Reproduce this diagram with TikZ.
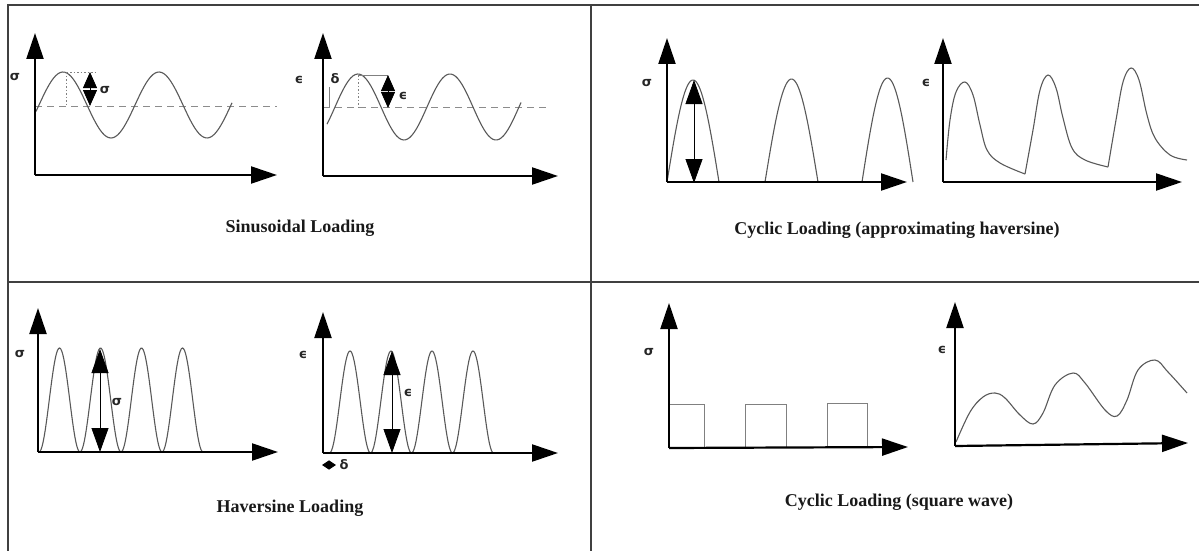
\documentclass[tikz,border=0pt]{standalone}
\usepackage{fontspec}
\setmainfont{Liberation Serif}
\newfontfamily\greekfont{DejaVu Sans}
\usetikzlibrary{arrows.meta}
\begin{document}
\begin{tikzpicture}[x=1pt,y=-1pt,
  grid/.style={line width=1.6pt, draw=black!75},
  axis/.style={line width=2.2pt, -{Triangle[length=26pt,width=17pt]}},
  curve/.style={line width=1.1pt, draw=black!65},
  thincurve/.style={line width=0.9pt, draw=black!50},
  mean/.style={dash pattern=on 7pt off 5pt, draw=black!45, line width=1pt},
  dots/.style={dash pattern=on 1.5pt off 2pt, draw=black!50, line width=0.8pt},
  dblsmall/.style={line width=0.8pt, {Triangle[length=16pt,width=14pt]}-{Triangle[length=16pt,width=14pt]}},
  dblbig/.style={line width=0.8pt, {Triangle[length=24pt,width=17pt]}-{Triangle[length=24pt,width=17pt]}},
  lab/.style={font=\fontsize{13}{13}\selectfont\greekfont\bfseries, inner sep=0pt, text=black!85},
  caption/.style={font=\fontsize{18}{21}\selectfont\bfseries, inner sep=0pt, text=black!90}]
\useasboundingbox (0,0) rectangle (1199,551);
% table grid
\draw[grid] (8,551) -- (8,5) -- (1199,5);
\draw[grid] (591,5) -- (591,551);
\draw[grid] (8,282) -- (1199,282);

% ---------- Panel 1: sinusoidal sigma ----------
\coordinate (o1) at (35,175);
\coordinate (y1) at (35,33);
\coordinate (x1) at (277,175);
\draw[mean] (35,106) -- (277,106);
\draw[curve] plot[domain=36:232, samples=90] (\x, {105 - 33*cos((\x-63)/96*360)});
\draw[dots] (63,72) -- (98,72);
\draw[dots] (66,72) -- (66,106);
\coordinate (a1t) at (90,72);
\coordinate (a1b) at (90,106);
\draw[dblsmall] (a1b) -- (a1t);
\node[lab] (s1) at (105,90) {σ};
\node[lab] (l1) at (15,77) {σ};
\draw[axis] (o1) -- (y1);
\draw[axis] (o1) -- (x1);
\node[caption] (c1) at (300,228) {Sinusoidal Loading};

% ---------- Panel 2: sinusoidal epsilon ----------
\coordinate (o2) at (323,176);
\coordinate (y2) at (323,33);
\coordinate (x2) at (558,176);
\draw[mean] (323,107) -- (550,107);
\draw[curve] plot[domain=327:521, samples=90] (\x, {107 - 33*cos((\x-358)/92*360)});
\draw[thincurve] (358,75) -- (388,75);
\draw[dots] (358,75) -- (358,107);
\draw[thincurve, line width=0.6pt] (329,87) -- (329,107);
\coordinate (a2t) at (388,75);
\coordinate (a2b) at (388,108);
\draw[dblsmall] (a2b) -- (a2t);
\node[lab] (e2) at (403,96) {ϵ};
\node[lab] (d2) at (335,79) {δ};
\node[lab] (l2) at (299,80) {ϵ};
\draw[axis] (o2) -- (y2);
\draw[axis] (o2) -- (x2);

% ---------- Panel 3: cyclic sigma ----------
\coordinate (o3) at (667,182);
\coordinate (y3) at (667,38);
\coordinate (x3) at (907,182);
\draw[curve] plot[domain=667:719, samples=50] (\x, {182 - 102*sin((\x-667)/52*180)});
\draw[curve] plot[domain=765:818, samples=50] (\x, {182 - 103*sin((\x-765)/53*180)});
\draw[curve] plot[domain=862:913, samples=50] (\x, {182 - 104*sin((\x-862)/51*180)});
\coordinate (a3t) at (694,80);
\coordinate (a3b) at (694,183);
\draw[dblbig] (a3b) -- (a3t);
\node[lab] (l3) at (647,83) {σ};
\draw[axis] (o3) -- (y3);
\draw[axis] (o3) -- (x3);
\node[caption] (c3) at (897,230) {Cyclic Loading (approximating haversine)};

% ---------- Panel 4: cyclic epsilon ----------
\coordinate (o4) at (943,182);
\coordinate (y4) at (943,38);
\coordinate (x4) at (1182,182);
\draw[curve] plot[smooth, tension=0.6] coordinates {(946,160) (950,120) (956,92) (965,82) (973,95) (980,125) (987,150) (1000,163) (1025,174)};
\draw[curve] plot[smooth, tension=0.6] coordinates {(1025,174) (1033,130) (1040,90) (1048,75) (1056,88) (1063,118) (1072,148) (1085,160) (1108,167)};
\draw[curve] plot[smooth, tension=0.6] coordinates {(1108,167) (1116,120) (1123,82) (1131,68) (1139,80) (1147,115) (1155,138) (1170,155) (1187,160)};
\node[lab] (l4) at (926,83) {ϵ};
\draw[axis] (o4) -- (y4);
\draw[axis] (o4) -- (x4);

% ---------- Panel 5: haversine sigma ----------
\coordinate (o5) at (38,452);
\coordinate (y5) at (38,308);
\coordinate (x5) at (278,452);
\draw[curve] plot[domain=39:203, samples=160] (\x, {452 - 52*(1-cos((\x-39)/41*360))});
\coordinate (a5t) at (100,349);
\coordinate (a5b) at (100,452);
\draw[dblbig] (a5b) -- (a5t);
\node[lab] (s5) at (117,402) {σ};
\node[lab] (l5) at (20,354) {σ};
\draw[axis] (o5) -- (y5);
\draw[axis] (o5) -- (x5);
\node[caption] (c5) at (290,508) {Haversine Loading};

% ---------- Panel 6: haversine epsilon ----------
\coordinate (o6) at (323,453);
\coordinate (y6) at (323,312);
\coordinate (x6) at (558,453);
\draw[curve] plot[domain=329.5:493.5, samples=160] (\x, {453 - 51*(1-cos((\x-329.5)/41*360))});
\coordinate (a6t) at (392,351);
\coordinate (a6b) at (392,453);
\draw[dblbig] (a6b) -- (a6t);
\node[lab] (e6) at (408,393) {ϵ};
\node[lab] (l6) at (303,355) {ϵ};
\coordinate (d6l) at (322,465);
\coordinate (d6r) at (336,465);
\draw[line width=0.8pt, {Triangle[length=7pt,width=9pt]}-{Triangle[length=7pt,width=9pt]}] (d6l) -- (d6r);
\node[lab] (d6) at (344,465) {δ};
\draw[axis] (o6) -- (y6);
\draw[axis] (o6) -- (x6);

% ---------- Panel 7: square wave sigma ----------
\coordinate (o7) at (669,448);
\coordinate (y7) at (669,303);
\coordinate (x7) at (908,447);
\draw[thincurve] (669,404) -- (704,404) -- (704,448);
\draw[thincurve] (745,448) -- (745,404) -- (786,404) -- (786,448);
\draw[thincurve] (827,448) -- (827,403) -- (867,403) -- (867,448);
\node[lab] (l7) at (649,352) {σ};
\draw[axis] (o7) -- (y7);
\draw[axis] (o7) -- (x7);
\node[caption] (c7) at (899,502) {Cyclic Loading (square wave)};

% ---------- Panel 8: square wave epsilon ----------
\coordinate (o8) at (955,446);
\coordinate (y8) at (955,302);
\coordinate (x8) at (1188,443);
\draw[curve] plot[smooth, tension=0.6] coordinates {(956,442) (970,412) (983,397) (995,393) (1005,398) (1020,415) (1033,424) (1043,413) (1055,385) (1073,373) (1085,383) (1105,410) (1117,416) (1127,400) (1138,370) (1155,360) (1168,372) (1187,393)};
\node[lab] (l8) at (942,350) {ϵ};
\draw[axis] (o8) -- (y8);
\draw[axis] (o8) -- (x8);
\end{tikzpicture}
\end{document}
